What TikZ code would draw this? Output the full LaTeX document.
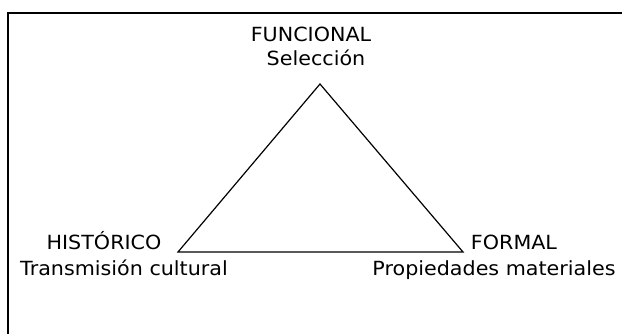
\documentclass[tikz,border=0pt]{standalone}
\usepackage{fontspec}
\setmainfont{DejaVu Sans}[FakeStretch=1.06]

\begin{document}
\begin{tikzpicture}
    [
        x=1pt, y=-1pt,
        label_style/.style={anchor=base, inner sep=0pt, text=black, font=\fontsize{19.5}{23}\selectfont},
        edge_style/.style={draw=black, line width=1.2pt},
        frame_style/.style={draw=black, line width=2.2pt}
    ]
        \useasboundingbox (0,0) rectangle (622,334);
        \draw[frame_style] (8,334) -- (8,13) -- (622,13);

        \coordinate (vfun) at (320,84);
        \coordinate (vhis) at (178,252);
        \coordinate (vfor) at (463,252);
        \draw[edge_style] (vfun) -- (vhis) -- (vfor) -- cycle;

        \node[label_style] (fun) at (311,42) {FUNCIONAL};
        \node[label_style] (funsub) at (316,66) {Selección};
        \node[label_style] (his) at (104,250) {HISTÓRICO};
        \node[label_style] (hissub) at (124,276) {Transmisión cultural};
        \node[label_style] (for) at (514,250) {FORMAL};
        \node[label_style] (forsub) at (494,276) {Propiedades materiales};
    \end{tikzpicture}
\end{document}
